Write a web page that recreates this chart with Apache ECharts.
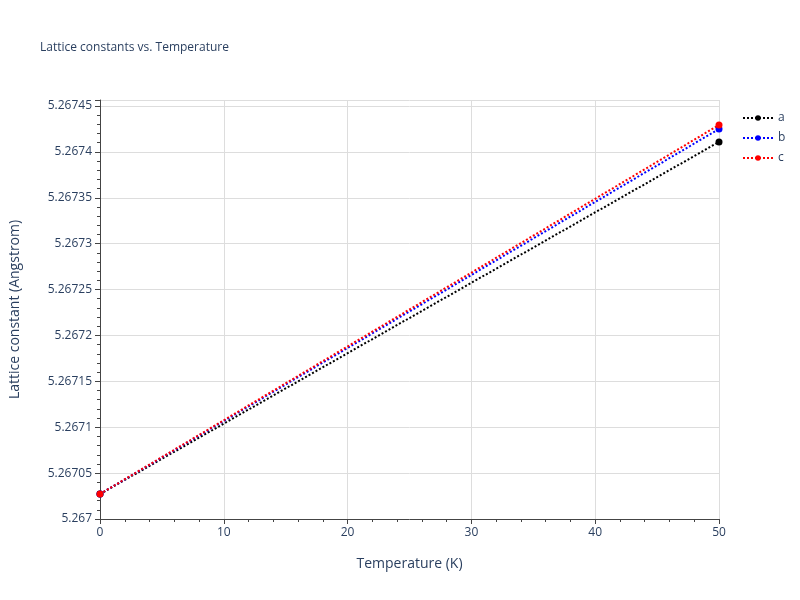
<!DOCTYPE html>
<html>
<head>
<meta charset="utf-8">
<script src="https://cdn.jsdelivr.net/npm/echarts@6/dist/echarts.min.js"></script>
<style>html,body{margin:0;padding:0;background:#fff}#chart{width:800px;height:600px}</style>
</head>
<body>
<div id="chart"></div>
<script>
// temperature (K) and lattice constants (Angstrom)
const temps = [0, 50];
const aVals = [5.2670272, 5.2674108];
const bVals = [5.2670272, 5.267425];
const cVals = [5.2670272, 5.2674293];

const chart = echarts.init(document.getElementById('chart'));

function mkSeries(name, vals, color) {
  return {
    name: name,
    type: 'line',
    data: temps.map((t, i) => [t, vals[i]]),
    symbol: 'circle',
    symbolSize: 7,
    itemStyle: { color: color },
    lineStyle: { color: color, width: 2, type: [2, 2] }
  };
}

chart.setOption({
  animation: false,
  textStyle: { fontFamily: 'Open Sans, sans-serif' },
  title: {
    text: 'Lattice constants vs. Temperature',
    left: 35, top: 37,
    textStyle: { fontSize: 12, fontWeight: 'normal', color: '#2a3f5f' }
  },
  legend: {
    orient: 'vertical',
    left: 737, top: 107,
    itemGap: 8,
    itemWidth: 30,
    itemHeight: 7,
    textStyle: { color: '#2a3f5f', fontSize: 12 },
    data: ['a', 'b', 'c']
  },
  grid: { left: 95, right: 81, top: 100, bottom: 81 },
  xAxis: {
    type: 'value',
    min: 0, max: 50, interval: 10,
    name: 'Temperature (K)',
    nameLocation: 'middle', nameGap: 38,
    nameTextStyle: { color: '#2a3f5f', fontSize: 14 },
    axisLine: { show: true, lineStyle: { color: '#444' } },
    axisTick: { show: true, length: 5, lineStyle: { color: '#444' } },
    minorTick: { show: true, splitNumber: 5, length: 3, lineStyle: { color: '#444' } },
    axisLabel: { color: '#2a3f5f', fontSize: 12 },
    splitLine: { lineStyle: { color: '#ddd' } }
  },
  yAxis: {
    type: 'value',
    min: 5.267, max: 5.2674565, interval: 0.00005,
    name: 'Lattice constant (Angstrom)',
    nameLocation: 'middle', nameGap: 78,
    nameTextStyle: { color: '#2a3f5f', fontSize: 14 },
    axisLine: { show: true, lineStyle: { color: '#444' } },
    axisTick: { show: true, length: 5, lineStyle: { color: '#444' } },
    minorTick: { show: true, splitNumber: 5, length: 3, lineStyle: { color: '#444' } },
    axisLabel: {
      color: '#2a3f5f', fontSize: 12,
      formatter: v => (v > 5.2674565 ? '' : String(parseFloat(v.toFixed(6))))
    },
    splitLine: { lineStyle: { color: '#ddd' } }
  },
  series: [
    mkSeries('a', aVals, '#000000'),
    mkSeries('b', bVals, '#0000ff'),
    mkSeries('c', cVals, '#ff0000')
  ]
});
</script>
</body>
</html>
